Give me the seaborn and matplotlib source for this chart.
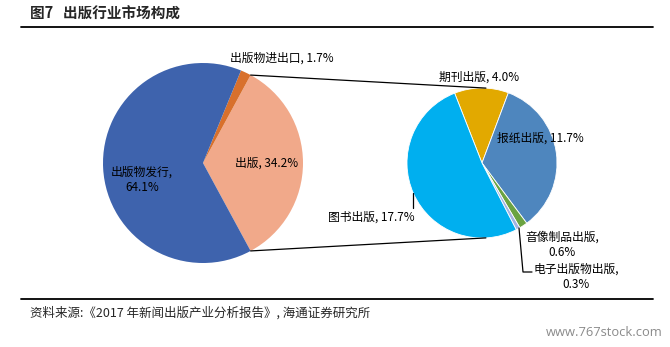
import numpy as np
import matplotlib
matplotlib.use("Agg")
import matplotlib.pyplot as plt
import seaborn as sns

# Market structure of the publishing industry (share of total, %)
main_labels = ["出版", "出版物进出口", "出版物发行"]
main_values = [34.2, 1.7, 64.1]
main_colors = ["#F1A98A", "#D8702C", "#3E63AD"]

# Breakdown of the "出版" segment (share of total, %)
sub_labels = ["期刊出版", "报纸出版", "音像制品出版", "电子出版物出版", "图书出版"]
sub_values = [4.0, 11.7, 0.6, 0.3, 17.7]
sub_colors = ["#E2A900", "#4E86BE", "#6BA342", "#A3B3E2", "#00AFEF"]

title = "图7   出版行业市场构成"
source = "资料来源:《2017 年新闻出版产业分析报告》, 海通证券研究所"
watermark = "www.767stock.com"

sns.set_theme(style="white")
plt.rcParams["font.family"] = ["Noto Sans CJK SC", "DejaVu Sans"]

W, H = 670, 347
fig = plt.figure(figsize=(W / 100, H / 100), dpi=100)
ax = fig.add_axes([0, 0, 1, 1])

def py(y):
    # pixel row (from top) to data y
    return H - y

main_c, main_r = (203, py(163)), 100
sub_c, sub_r = (482, py(163)), 75

# main pie: the "出版" wedge is centred on the right-hand side
span = main_values[0] / sum(main_values) * 360
ax.pie(main_values, colors=main_colors, startangle=-span / 2, counterclock=True,
       center=main_c, radius=main_r, frame=True,
       wedgeprops=dict(linewidth=0))
ax.pie(sub_values, colors=sub_colors, startangle=111.4, counterclock=False,
       center=sub_c, radius=sub_r, frame=True,
       wedgeprops=dict(linewidth=0.6, edgecolor="white"))
ax.set_xlim(0, W)
ax.set_ylim(0, H)
ax.set_aspect("equal")
ax.axis("off")

# connectors between the two pies
a = np.deg2rad(span / 2)
top_main = (main_c[0] + main_r * np.cos(a), main_c[1] + main_r * np.sin(a))
bot_main = (main_c[0] + main_r * np.cos(-a), main_c[1] + main_r * np.sin(-a))
b = np.deg2rad(87)
top_sub = (sub_c[0] + sub_r * np.cos(b), sub_c[1] + sub_r * np.sin(b))
bot_sub = (sub_c[0] + sub_r * np.cos(-b), sub_c[1] + sub_r * np.sin(-b))
ax.plot([top_main[0], top_sub[0]], [top_main[1], top_sub[1]], color="black", lw=0.9)
ax.plot([bot_main[0], bot_sub[0]], [bot_main[1], bot_sub[1]], color="black", lw=0.9)

fs = 8.5
def lbl(x, y, s, ha="center"):
    ax.text(x, py(y), s, ha=ha, va="center", fontsize=fs, color="black", linespacing=1.25)

lbl(282, 58, f"{main_labels[1]}, {main_values[1]}%")
lbl(267, 163, f"{main_labels[0]}, {main_values[0]}%")
lbl(142, 180, f"{main_labels[2]},\n{main_values[2]}%")

lbl(479, 77, f"{sub_labels[0]}, {sub_values[0]}%")
lbl(540, 138, f"{sub_labels[1]}, {sub_values[1]}%")
lbl(371, 217, f"{sub_labels[4]}, {sub_values[4]}%")
lbl(562, 245, f"{sub_labels[2]},\n{sub_values[2]}%")
lbl(576, 277, f"{sub_labels[3]},\n{sub_values[3]}%")

# leader lines
ax.plot([413, 413], [py(193), py(208)], color="black", lw=0.9)
ax.plot([519, 523, 532], [py(228), py(272), py(272)], color="black", lw=0.9)

# title, rules, source and site mark
ax.text(30, py(14), title, ha="left", va="center", fontsize=10.5, fontweight="bold")
ax.plot([21, 653], [py(26.5), py(26.5)], color="black", lw=1.3)
ax.plot([21, 653], [py(299), py(299)], color="black", lw=1.3)
ax.text(30, py(313), source, ha="left", va="center", fontsize=9)
ax.text(663, py(333), watermark, ha="right", va="center", fontsize=9.3,
        color="#8a8a8a", family=["Open Sans", "DejaVu Sans"])

fig.savefig("out.png", dpi=100)
